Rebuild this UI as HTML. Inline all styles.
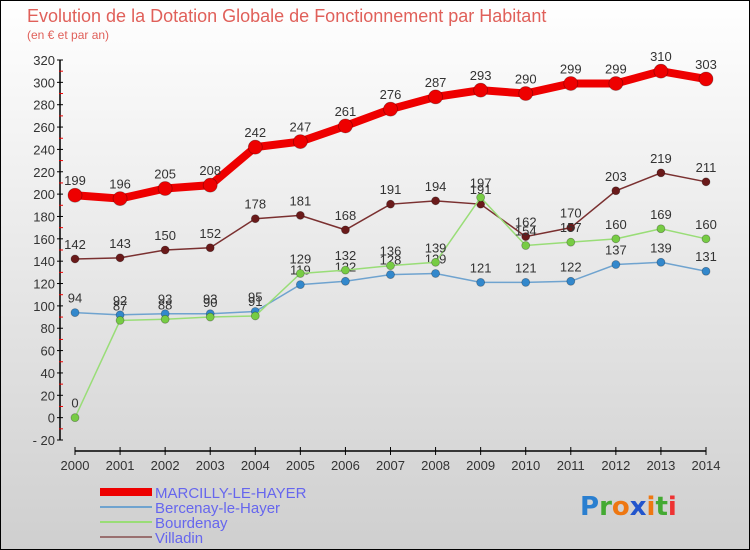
<!DOCTYPE html>
<html><head><meta charset="utf-8"><style>
body{margin:0;width:750px;height:550px;overflow:hidden;font-family:"Liberation Sans",sans-serif}
svg{display:block}
</style></head><body>
<svg id="chart" width="750" height="550">
<defs><linearGradient id="bg" x1="0" y1="0" x2="0" y2="1"><stop offset="0" stop-color="#ffffff"/><stop offset="1" stop-color="#cfcfcf"/></linearGradient></defs>
<rect x="0.5" y="0.5" width="749" height="549" fill="url(#bg)" stroke="#000"/>
<text x="27" y="22" font-size="18" fill="#e0605a">Evolution de la Dotation Globale de Fonctionnement par Habitant</text>
<text x="27" y="39" font-size="12" fill="#e0605a">(en € et par an)</text>
<g id="axes"></g><g id="series"></g>
<g font-size="15" fill="#6666ee">
<line x1="100" y1="492" x2="152" y2="492" stroke="#ee0000" stroke-width="8"/>
<text x="155" y="498">MARCILLY-LE-HAYER</text>
<line x1="100" y1="507" x2="152" y2="507" stroke="#6fa3cf" stroke-width="2"/>
<text x="155" y="513">Bercenay-le-Hayer</text>
<line x1="100" y1="522" x2="152" y2="522" stroke="#99dd77" stroke-width="2"/>
<text x="155" y="528">Bourdenay</text>
<line x1="100" y1="537" x2="152" y2="537" stroke="#997070" stroke-width="2"/>
<text x="155" y="543">Villadin</text>
</g>
<g font-size="26" font-family="'DejaVu Sans',sans-serif" font-weight="bold">
<text x="580" y="515"><tspan fill="#2a7fd0">P</tspan><tspan fill="#44aa33">r</tspan><tspan fill="#ee7711">o</tspan><tspan fill="#2255cc">x</tspan><tspan fill="#ee7711">i</tspan><tspan fill="#44aa33">t</tspan><tspan fill="#ee3333">i</tspan></text>
</g>
</svg>
<script>
const years=[2000,2001,2002,2003,2004,2005,2006,2007,2008,2009,2010,2011,2012,2013,2014];
const marcilly=[199,196,205,208,242,247,261,276,287,293,290,299,299,310,303];
const bercenay=[94,92,93,93,95,119,122,128,129,121,121,122,137,139,131];
const bourdenay=[0,87,88,90,91,129,132,136,139,197,154,157,160,169,160];
const villadin=[142,143,150,152,178,181,168,191,194,191,162,170,203,219,211];
const yTicks=[-20,0,20,40,60,80,100,120,140,160,180,200,220,240,260,280,300,320];
const NS="http://www.w3.org/2000/svg";
const X=i=>75+i*(706-75)/(years.length-1);
const Y=v=>60+(320-v)*(440-60)/340;
function mk(t,a,p){const e=document.createElementNS(NS,t);for(const k in a)e.setAttribute(k,a[k]);p.appendChild(e);return e;}
const ax=document.getElementById('axes');
let l=mk('line',{x1:60,y1:60,x2:60,y2:440,stroke:'#000','stroke-width':1.5},ax);


const yMax=yTicks[yTicks.length-1];
yTicks.forEach(v=>{
 mk('line',{x1:57,y1:Y(v),x2:63,y2:Y(v),stroke:'#000'},ax);
 if(v<yMax) mk('line',{x1:59,y1:Y(v+10),x2:63,y2:Y(v+10),stroke:'#e00'},ax);
 const t=mk('text',{x:55,y:Y(v)+5,'text-anchor':'end','font-size':13,fill:'#333'},ax);
 t.textContent=v<0?'- '+(-v):v;
 
 
});
l=mk('line',{x1:X(0),y1:451,x2:X(years.length-1),y2:451,stroke:'#000','stroke-width':1.5},ax);


years.forEach((yr,i)=>{
 mk('line',{x1:X(i),y1:447,x2:X(i),y2:455,stroke:'#000'},ax);
 const t=mk('text',{x:X(i),y:470,'text-anchor':'middle','font-size':13,fill:'#333'},ax);
 t.textContent=yr;
 
 
});
const sg=document.getElementById('series');
function draw(vals,name,color,dot,w,r){
 const g=mk('g',{},sg);
 
 
 const p=mk('polyline',{points:vals.map((v,i)=>X(i)+','+Y(v)).join(' '),fill:'none',stroke:color,'stroke-width':w},g);
 
 
 vals.forEach((v,i)=>{
  const c=mk('circle',{cx:X(i),cy:Y(v),r:r,fill:dot,stroke:'rgba(0,0,0,0.3)','stroke-width':0.8},g);
  
  
  const t=mk('text',{x:X(i),y:Y(v)-10,'text-anchor':'middle','font-size':13,fill:'#333'},g);
  t.textContent=v;
  
  
 });
}
draw(villadin,'villadin','#7a3030','#6a1a1a',1.5,4);
draw(bercenay,'bercenay','#6fa3cf','#3388cc',1.5,4);
draw(bourdenay,'bourdenay','#99dd77','#77cc44',1.5,4);
draw(marcilly,'marcilly','#ee0000','#ee0000',8,7);
</script>
</body></html>
